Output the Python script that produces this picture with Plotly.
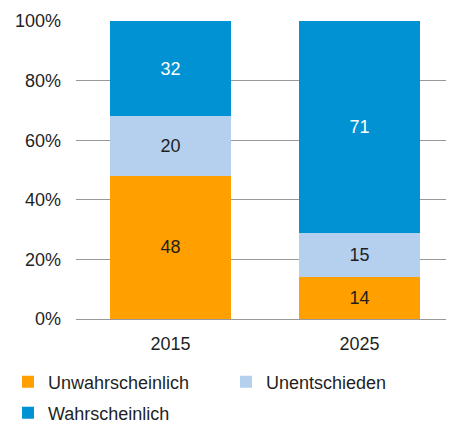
import plotly.graph_objects as go

years = ["2015", "2025"]
unwahrscheinlich = [48, 14]
unentschieden = [20, 15]
wahrscheinlich = [32, 71]
tick_vals = [0, 20, 40, 60, 80, 100]
tick_text = ["0%", "20%", "40%", "60%", "80%", "100%"]

FONT = "Liberation Sans, Arial, sans-serif"
series = [
    ("Unwahrscheinlich", unwahrscheinlich, "#FFA000", "#1f1f1f", "legend"),
    ("Unentschieden", unentschieden, "#B4D0EE", "#1f1f1f", "legend3"),
    ("Wahrscheinlich", wahrscheinlich, "#0092D2", "#ffffff", "legend2"),
]

W, H = 446, 415  # page body has an 8px margin

fig = go.Figure()
for name, vals, color, tcolor, leg in series:
    fig.add_trace(go.Bar(
        x=years, y=vals, name=name, marker=dict(color=color, line=dict(width=0)),
        text=[str(v) for v in vals], textposition="inside", insidetextanchor="middle",
        textfont=dict(color=tcolor, size=18, family=FONT),
        width=0.635, legend=leg,
    ))

leg_common = dict(orientation="h", xref="container", yref="container", xanchor="left",
                  yanchor="middle", font=dict(size=18), borderwidth=0,
                  bgcolor="rgba(0,0,0,0)")

fig.update_layout(
    barmode="stack",
    width=W, height=H,
    margin=dict(l=68, r=0, t=13, b=104, autoexpand=False),
    plot_bgcolor="white", paper_bgcolor="white",
    font=dict(family=FONT, size=18, color="#1f1f1f"),
    showlegend=True,
    legend=dict(x=0.0, y=1 - 374 / H, **leg_common),
    legend3=dict(x=218 / W, y=1 - 374 / H, **leg_common),
    legend2=dict(x=0.0, y=1 - 405 / H, **leg_common),
    xaxis=dict(showline=True, linecolor="#999999", linewidth=1, ticks="", automargin=False,
               ticklabelstandoff=8, tickfont=dict(size=18)),
    yaxis=dict(range=[0, 100], tickvals=tick_vals, ticktext=tick_text, showgrid=True,
               gridcolor="#999999", gridwidth=1, zeroline=False, ticks="", automargin=False,
               ticklabelstandoff=14, tickfont=dict(size=18)),
    uniformtext=dict(mode="show", minsize=10),
)

fig.write_html("out.html")
